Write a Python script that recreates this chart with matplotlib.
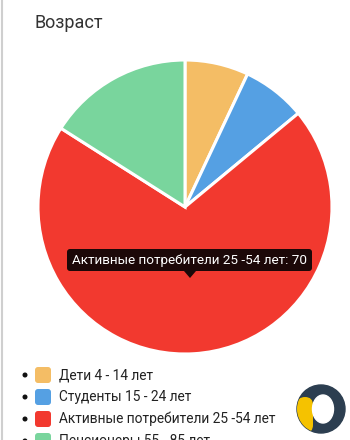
import matplotlib
matplotlib.use("Agg")
import matplotlib.pyplot as plt
from matplotlib.patches import FancyBboxPatch, Polygon, Circle, Wedge, Ellipse

plt.rcParams["font.family"] = ["Roboto", "DejaVu Sans"]

# data
labels = ["Дети 4 - 14 лет", "Студенты 15 - 24 лет",
          "Активные потребители 25 -54 лет", "Пенсионеры 55 - 85 лет"]
values = [7, 7, 70, 16]
colors = ["#f4bd65", "#55a0e3", "#f2392f", "#79d59d"]
title = "Возраст"
tip_index = 2

W, H = 350, 440
fig = plt.figure(figsize=(W / 100, H / 100), dpi=100)
fig.patch.set_facecolor("white")

# pie: centre (185, 207), radius 147 px
cx, cy, r = 185, 207, 147
ax_pie = fig.add_axes([(cx - r) / W, (H - cy - r) / H, 2 * r / W, 2 * r / H])
ax_pie.pie(values, colors=colors, startangle=90, counterclock=False,
           wedgeprops=dict(edgecolor="white", linewidth=2.2))
ax_pie.set_xlim(-1, 1); ax_pie.set_ylim(-1, 1)
ax_pie.axis("off")

# overlay in pixel coords
ax = fig.add_axes([0, 0, 1, 1], zorder=5)
ax.set_xlim(0, W); ax.set_ylim(H, 0)
ax.axis("off")

ax.plot([1.5, 1.5], [0, H], color="#cfcfcf", lw=1.5)
ax.text(35, 23, title, fontsize=13, color="#333333", va="center", ha="left")

# tooltip
ax.add_patch(FancyBboxPatch((67, 249), 245, 22, boxstyle="round,pad=0,rounding_size=3",
                            facecolor="#1c0808", edgecolor="none"))
ax.add_patch(Polygon([(184, 271), (196, 271), (190, 278)], closed=True,
                     facecolor="#1c0808", edgecolor="none"))
ax.text(190, 260.5, f"{labels[tip_index]}: {values[tip_index]}", fontsize=9.7,
        color="white", ha="center", va="center")

# legend
for i, (lab, col) in enumerate(zip(labels, colors)):
    y = 375 + 22 * i
    ax.add_patch(Circle((25, y), 1.8, color="#111111"))
    ax.add_patch(FancyBboxPatch((35, y - 8), 16, 16, boxstyle="round,pad=0,rounding_size=3",
                                facecolor=col, edgecolor="none"))
    ax.text(59, y, lab, fontsize=9.9, color="#222222", va="center", ha="left")

# logo
lx, ly, lr = 321, 409, 24
ax.add_patch(Circle((lx, ly), lr, color="#2c3e50", zorder=6))
yel = FancyBboxPatch((297, 397), 16, 36, boxstyle="round,pad=0,rounding_size=8",
                     facecolor="#f5c200", edgecolor="none", zorder=7)
ax.add_patch(yel)
clip = Circle((lx, ly), lr, transform=ax.transData)
yel.set_clip_path(clip)
ax.add_patch(Ellipse((323, 409), 21, 28, color="white", zorder=8))

fig.savefig("out.png", dpi=100, facecolor="white")
